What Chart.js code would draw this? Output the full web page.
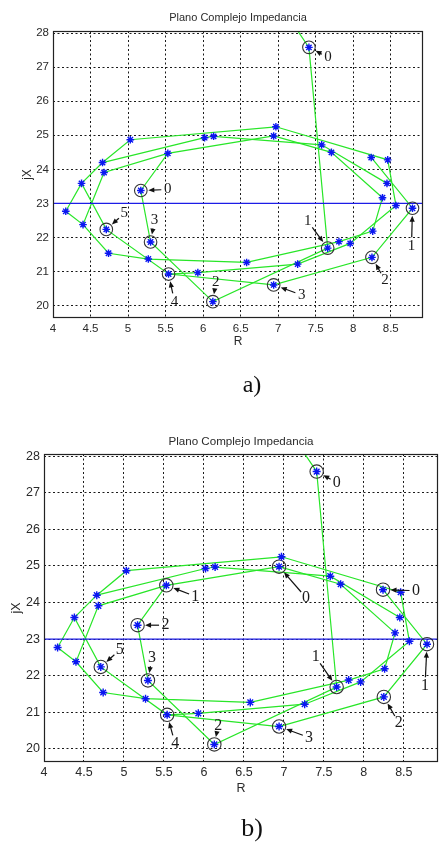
<!DOCTYPE html>
<html><head><meta charset="utf-8">
<script src="https://cdn.jsdelivr.net/npm/chart.js@4.4.1/dist/chart.umd.min.js"></script>
<style>
html,body{margin:0;padding:0;background:#fff;}
#page{position:relative;width:446px;height:848px;overflow:hidden;background:#fff;}
canvas{position:absolute;left:0;}
.t{position:absolute;text-align:center;white-space:nowrap;color:#2b2b2b;font-family:"Liberation Sans",Arial,sans-serif;}
.cap{position:absolute;text-align:center;font-family:"Liberation Serif","Times New Roman",serif;color:#111;}
</style></head><body>
<div id="page">
<canvas id="chartA" width="446" height="400" style="top:0"></canvas>
<canvas id="chartB" width="446" height="428" style="top:420px"></canvas>
<div class="t" style="left:88px;width:300px;top:10px;font-size:11px;line-height:14px">Plano Complejo Impedancia</div>
<div class="t" style="left:91px;width:300px;top:433px;font-size:11.6px;line-height:15px">Plano Complejo Impedancia</div>
<div class="cap" style="left:202px;width:100px;top:369px;font-size:24px;line-height:30px">a)</div>
<div class="cap" style="left:202px;width:100px;top:812px;font-size:26px;line-height:32px">b)</div>
</div>
<script>
// ---- axes ----
const xTicks = [4, 4.5, 5, 5.5, 6, 6.5, 7, 7.5, 8, 8.5];
const xTickLabels = ['4', '4.5', '5', '5.5', '6', '6.5', '7', '7.5', '8', '8.5'];
const yTicks = [20, 21, 22, 23, 24, 25, 26, 27, 28];
const yTickLabels = ['20', '21', '22', '23', '24', '25', '26', '27', '28'];
const xLimits = [4, 8.93];
const yLimits = [19.64, 28.06];
const refLineJX = 23;

// ---- impedance trajectories (R, jX) ----
const trajA_R = [6.97, 7.41, 7.66, 6.13, 5.30, 5.17, 5.53, 6.94, 7.71, 8.39, 8.26, 7.81, 6.58, 5.27, 4.74, 4.40, 4.68, 5.53];
const trajA_X = [29.00, 27.58, 21.69, 20.12, 21.87, 23.38, 24.47, 24.98, 24.50, 23.17, 22.19, 21.88, 21.27, 21.37, 21.54, 22.38, 23.91, 24.47];
const trajB_R = [8.24, 8.79, 8.25, 6.94, 5.54, 4.71, 4.38, 4.66, 5.03, 6.97, 8.46, 8.57, 7.96, 7.26, 5.93, 5.54];
const trajB_X = [24.35, 22.86, 21.42, 20.61, 20.93, 22.24, 23.59, 24.20, 24.87, 25.25, 24.28, 22.94, 21.83, 21.22, 20.97, 20.93];
const trajC_R = [4.40, 4.17, 4.38];
const trajC_X = [22.38, 22.77, 23.59];
const trajD_R = [4.66, 6.02, 6.14, 7.58, 8.45];
const trajD_X = [24.20, 24.93, 24.97, 24.72, 23.59];

// ---- circled / numbered points ----
const marksA_R = [7.41, 5.17, 4.71, 5.30, 5.54, 6.13, 6.94, 7.66, 8.25, 8.79];
const marksA_X = [27.58, 23.38, 22.24, 21.87, 20.93, 20.12, 20.61, 21.69, 21.42, 22.86];
const marksA_text = ['0', '0', '5', '3', '4', '2', '3', '1', '2', '1'];
const marksB_R = [7.41, 6.94, 8.24, 5.53, 5.17, 4.71, 5.30, 5.54, 6.13, 6.94, 7.66, 8.25, 8.79];
const marksB_X = [27.58, 24.98, 24.35, 24.47, 23.38, 22.24, 21.87, 20.93, 20.12, 20.61, 21.69, 21.42, 22.86];
const marksB_text = ['0', '0', '0', '1', '2', '5', '3', '4', '2', '3', '1', '2', '1'];

// label placement (pixel offsets from the circled point) - layout only
const labelOffsA = [[19,10],[27,-1],[18,-16],[4,-22],[6,28],[3,-20],[28,10],[-20,-27],[13,23],[-1,38]];
const labelOffsB = [[20,11],[27,31],[33,1],[29,11],[28,0],[19,-17],[4,-23],[8,29],[4,-19],[30,11],[-21,-30],[15,26],[-2,42]];

const pts = (R, X) => R.map((r, i) => ({x: r, y: X[i]}));
const trajs = [[trajA_R, trajA_X], [trajB_R, trajB_X], [trajC_R, trajC_X], [trajD_R, trajD_X]];
const starSeen = new Set();
const stars = [];
trajs.forEach(([R, X]) => R.forEach((r, i) => {
  const k = r + ',' + X[i];
  if (X[i] <= yLimits[1] && !starSeen.has(k)) { starSeen.add(k); stars.push({x: r, y: X[i]}); }
}));

const GREEN = 'rgb(40,230,40)';
const BLUE = '#1c1ce6';

function overlay(R, X, T, offs, fontPx) {
  return {
    id: 'overlay',
    afterDatasetsDraw(chart) {
      const {ctx, chartArea: a, scales: {x, y}} = chart;
      ctx.save();
      ctx.strokeStyle = '#222';
      ctx.lineWidth = 1.2;
      ctx.strokeRect(Math.round(a.left) + 0.5, Math.round(a.top) + 0.5, Math.round(a.right - a.left) - 1, Math.round(a.bottom - a.top) - 1);
      ctx.font = fontPx + 'px "Liberation Serif", "Times New Roman", serif';
      ctx.textAlign = 'center';
      ctx.textBaseline = 'middle';
      R.forEach((r, i) => {
        const px = x.getPixelForValue(r), py = y.getPixelForValue(X[i]);
        const tx = px + offs[i][0], ty = py + offs[i][1];
        let dx = px - tx, dy = py - ty;
        const len = Math.hypot(dx, dy); dx /= len; dy /= len;
        const gap = 1 / Math.sqrt((dx / 4.5) ** 2 + (dy / 7) ** 2) + 2;
        const sx = tx + dx * gap, sy = ty + dy * gap;
        const ex = px - dx * 7.5, ey = py - dy * 7.5;
        ctx.fillStyle = '#1a1a1a';
        ctx.fillText(T[i], tx, ty);
        ctx.strokeStyle = '#111'; ctx.lineWidth = 1.2;
        ctx.beginPath(); ctx.moveTo(sx, sy); ctx.lineTo(ex - dx * 4, ey - dy * 4); ctx.stroke();
        ctx.beginPath();
        ctx.moveTo(ex, ey);
        ctx.lineTo(ex - dx * 6 - dy * 2.6, ey - dy * 6 + dx * 2.6);
        ctx.lineTo(ex - dx * 6 + dy * 2.6, ey - dy * 6 - dx * 2.6);
        ctx.closePath(); ctx.fillStyle = '#111'; ctx.fill();
      });
      ctx.restore();
    }
  };
}

function build(id, L, marks) {
  const datasets = [
    {data: stars, showLine: false, pointStyle: 'star', pointRadius: L.star, pointBorderColor: '#0b16f2', pointBorderWidth: 1.4, pointBackgroundColor: '#0b16f2'},
    {data: pts(marks.R, marks.X), showLine: false, pointStyle: 'circle', pointRadius: L.ring, pointBorderColor: '#333', pointBorderWidth: 1.1, pointBackgroundColor: 'rgba(0,0,0,0)'},
    {data: [{x: xLimits[0], y: refLineJX}, {x: xLimits[1], y: refLineJX}], showLine: true, borderColor: BLUE, borderWidth: 1.2, pointRadius: 0}
  ];
  trajs.forEach(([R, X]) => datasets.push({data: pts(R, X), showLine: true, borderColor: GREEN, borderWidth: 1.2, pointRadius: 0, tension: 0}));
  const tickFont = {family: '"Liberation Sans", Arial, sans-serif', size: L.tick};
  const titleFont = {family: '"Liberation Sans", Arial, sans-serif', size: L.axisTitle};
  new Chart(document.getElementById(id), {
    type: 'scatter',
    data: {datasets},
    options: {
      responsive: false, animation: false, events: [],
      layout: {padding: {left: 0, right: L.padRight, top: L.top, bottom: L.padBottom}},
      plugins: {legend: {display: false}, tooltip: {enabled: false}, title: {display: false}},
      scales: {
        x: {
          type: 'linear', min: xLimits[0], max: xLimits[1],
          afterBuildTicks: s => { s.ticks = xTicks.map(v => ({value: v})); },
          afterFit: s => { s.height = L.xH; },
          ticks: {autoSkip: false, maxRotation: 0, font: tickFont, color: '#2a2a2a', padding: L.xPad,
                  callback: (v, i) => xTickLabels[i]},
          grid: {color: '#1a1a1a', lineWidth: 1, drawTicks: false},
          border: {display: false, dash: [2, 2.5]},
          title: {display: true, text: 'R', font: titleFont, color: '#2a2a2a', padding: {top: 0, bottom: 0}}
        },
        y: {
          type: 'linear', min: yLimits[0], max: yLimits[1],
          afterBuildTicks: s => { s.ticks = yTicks.map(v => ({value: v})); },
          afterFit: s => { s.width = L.yW; },
          ticks: {autoSkip: false, font: tickFont, color: '#2a2a2a', padding: 4,
                  callback: (v, i) => yTickLabels[i]},
          grid: {color: '#1a1a1a', lineWidth: 1, drawTicks: false},
          border: {display: false, dash: [2, 2.5]},
          title: {display: true, text: 'jX', font: titleFont, color: '#2a2a2a', padding: {top: L.yTitlePad, bottom: 0}}
        }
      }
    },
    plugins: [overlay(marks.R, marks.X, marks.T, marks.offs, L.note)]
  });
}

build('chartA', {padRight: 23, top: 31, padBottom: 51, xH: 31, yW: 53, tick: 11.5, axisTitle: 12, xPad: 4, yTitlePad: 20, star: 3.8, ring: 6.3, note: 15},
  {R: marksA_R, X: marksA_X, T: marksA_text, offs: labelOffsA});
build('chartB', {padRight: 4, top: 34, padBottom: 52, xH: 34, yW: 44, tick: 12.5, axisTitle: 12.5, xPad: 3, yTitlePad: 9, star: 4, ring: 6.7, note: 16},
  {R: marksB_R, X: marksB_X, T: marksB_text, offs: labelOffsB});
</script>
</body></html>
